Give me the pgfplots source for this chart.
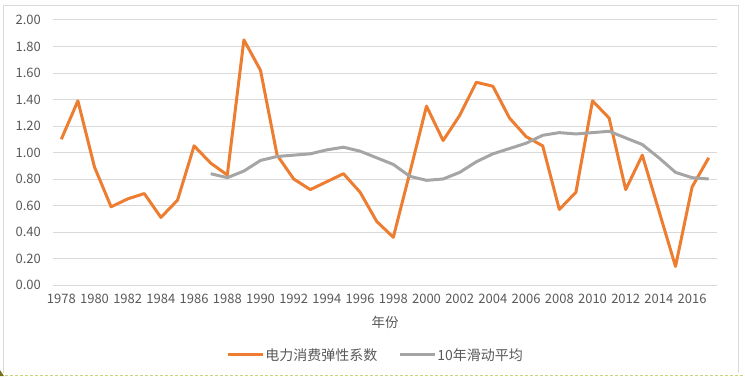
\documentclass[border=0pt]{standalone}
\usepackage{fontspec}
\setmainfont{Noto Sans CJK SC}
\usepackage{pgfplots}
\pgfplotsset{compat=1.18}
\definecolor{eorange}{HTML}{ED7D31}
\definecolor{egray}{HTML}{A5A5A5}
\definecolor{txtgray}{HTML}{595959}
\definecolor{gridgray}{HTML}{D9D9D9}
\definecolor{dashgreen}{HTML}{C9D27A}
\begin{document}
\begin{tikzpicture}[x=1bp,y=1bp]
\path[use as bounding box] (0,0) rectangle (745,380);
\draw[gridgray, line width=1bp] (3,7) -- (3,374) -- (738,374) -- (738,7);
\draw[dashgreen, line width=1bp, dash pattern=on 3bp off 2bp] (0,5) -- (745,5);
\fill[olive!80!black] (0,4) -- (4,4) -- (0,10) -- cycle;
\begin{axis}[
  at={(53bp,95bp)}, anchor=south west,
  scale only axis, width=664bp, height=265bp,
  xmin=1977.5, xmax=2017.5, ymin=0, ymax=2,
  xtick={1978,1980,...,2016},
  ytick={0,0.2,...,2.01},
  /pgf/number format/assume math mode=true,
  yticklabel={\pgfmathprintnumber[fixed,fixed zerofill,precision=2]{\tick}},
  xticklabel={\pgfmathprintnumber[1000 sep={},fixed]{\tick}},
  axis line style={draw=none},
  major tick length=0pt,
  ymajorgrids, grid style={gridgray, line width=1bp},
  ticklabel style={font=\fontsize{13bp}{15bp}\selectfont, text=txtgray},
  yticklabel style={inner sep=0pt, xshift=-12bp},
  xticklabel style={inner sep=0pt, yshift=-9bp},
  xlabel={年份},
  xlabel style={font=\fontsize{13.5bp}{16bp}\selectfont, text=txtgray, at={(0.5,-0.14)}, anchor=center},
  legend columns=2,
  legend style={at={(0.485,-0.264)}, anchor=center, draw=none, fill=none,
    font=\fontsize{14bp}{17bp}\selectfont, text=txtgray,
    nodes={inner sep=1bp},
    /tikz/every even column/.append style={column sep=20bp}},
  legend image code/.code={\draw[#1] (0bp,0bp) -- (35bp,0bp);},
]
\addplot[eorange, line width=3bp, line join=round] coordinates {
(1978,1.10)(1979,1.39)(1980,0.89)(1981,0.59)(1982,0.65)(1983,0.69)(1984,0.51)
(1985,0.64)(1986,1.05)(1987,0.92)(1988,0.83)(1989,1.85)(1990,1.62)(1991,0.98)
(1992,0.80)(1993,0.72)(1994,0.78)(1995,0.84)(1996,0.70)(1997,0.48)(1998,0.36)
(1999,0.85)(2000,1.35)(2001,1.09)(2002,1.28)(2003,1.53)(2004,1.50)(2005,1.26)
(2006,1.12)(2007,1.05)(2008,0.57)(2009,0.70)(2010,1.39)(2011,1.26)(2012,0.72)
(2013,0.98)(2014,0.56)(2015,0.14)(2016,0.74)(2017,0.96)};
\addlegendentry{电力消费弹性系数}
\addplot[egray, line width=3bp, line join=round] coordinates {
(1987,0.84)(1988,0.81)(1989,0.86)(1990,0.94)(1991,0.97)(1992,0.98)(1993,0.99)
(1994,1.02)(1995,1.04)(1996,1.01)(1997,0.96)(1998,0.91)(1999,0.82)(2000,0.79)
(2001,0.80)(2002,0.85)(2003,0.93)(2004,0.99)(2005,1.03)(2006,1.07)(2007,1.13)
(2008,1.15)(2009,1.14)(2010,1.15)(2011,1.16)(2012,1.11)(2013,1.06)(2014,0.96)
(2015,0.85)(2016,0.81)(2017,0.80)};
\addlegendentry{10年滑动平均}
\end{axis}
\end{tikzpicture}
\end{document}
